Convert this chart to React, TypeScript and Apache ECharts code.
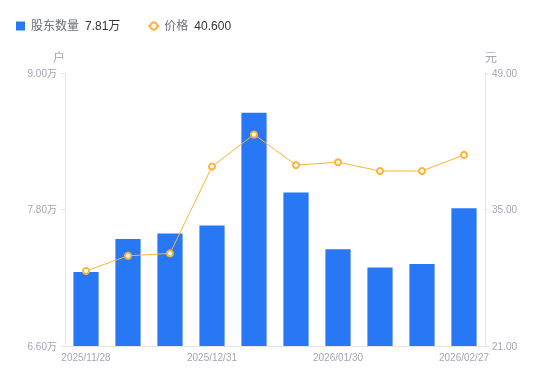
import React, { useEffect, useRef } from "react";
import * as echarts from "echarts";

const categories = [
  "2025/11/28",
  "2025/12/10",
  "2025/12/19",
  "2025/12/31",
  "2026/01/09",
  "2026/01/20",
  "2026/01/30",
  "2026/02/10",
  "2026/02/13",
  "2026/02/27",
];
// 股东数量 (万户)
const holders = [7.25, 7.54, 7.59, 7.66, 8.65, 7.95, 7.45, 7.29, 7.32, 7.81];
// 价格 (元)
const prices = [28.7, 30.25, 30.5, 39.4, 42.7, 39.55, 39.85, 38.95, 38.95, 40.6];

const leftTicks = { min: 6.6, max: 9.0, interval: 1.2 };
const rightTicks = { min: 21, max: 49, interval: 14 };

const FONT = "Arial, 'Liberation Sans', 'Noto Sans CJK SC', sans-serif";
const BAR_COLOR = "#2878F5";
const LINE_COLOR = "#FFB233";
const AXIS_LABEL = "#A3A6B4";
const AXIS_LINE = "#E6E6E6";

export default function App() {
  const ref = useRef<HTMLDivElement>(null);
  useEffect(() => {
    if (!ref.current) return;
    const chart = echarts.init(ref.current, undefined, { renderer: "svg" });
    const lastHolder = holders[holders.length - 1];
    const lastPrice = prices[prices.length - 1];
    chart.setOption({
      animation: false,
      textStyle: { fontFamily: FONT },
      legend: {
        left: 11,
        top: 15,
        itemWidth: 11,
        itemHeight: 9,
        itemGap: 27,
        data: [
          { name: "股东数量", icon: "path://M0 0h10v10H0z" },
          { name: "价格" },
        ],
        formatter: (name: string) => {
          if (name === "股东数量") return `{n|${name}}{v|${lastHolder.toFixed(2)}万}`;
          return `{n|${name}}{v|${lastPrice.toFixed(3)}}`;
        },
        textStyle: {
          fontFamily: FONT,
          rich: {
            n: { fontSize: 12, color: "#6B6E78", fontFamily: FONT, padding: [0, 6, 0, 0] },
            v: { fontSize: 12, color: "#333333", fontFamily: FONT },
          },
        },
      },
      grid: { left: 65, right: 65, top: 73, bottom: 35, containLabel: false },
      xAxis: {
        type: "category",
        data: categories,
        axisLine: { lineStyle: { color: AXIS_LINE } },
        axisTick: { show: false },
        axisLabel: {
          color: AXIS_LABEL,
          fontSize: 10,
          fontFamily: FONT,
          interval: 2,
          margin: 6,
        },
      },
      yAxis: [
        {
          type: "value",
          name: "户",
          nameLocation: "end",
          nameGap: 9,
          nameTextStyle: { color: AXIS_LABEL, fontSize: 12, align: "right", fontFamily: FONT },
          min: leftTicks.min,
          max: leftTicks.max,
          interval: leftTicks.interval,
          axisLine: { show: true, lineStyle: { color: AXIS_LINE } },
          axisTick: { show: true, length: 4, lineStyle: { color: AXIS_LINE } },
          splitLine: { show: false },
          axisLabel: {
            color: AXIS_LABEL,
            fontSize: 10,
            fontFamily: FONT,
            margin: 8,
            formatter: (v: number) => `${v.toFixed(2)}万`,
          },
        },
        {
          type: "value",
          name: "元",
          nameLocation: "end",
          nameGap: 9,
          nameTextStyle: { color: AXIS_LABEL, fontSize: 12, align: "left", fontFamily: FONT },
          min: rightTicks.min,
          max: rightTicks.max,
          interval: rightTicks.interval,
          position: "right",
          axisLine: { show: true, lineStyle: { color: AXIS_LINE } },
          axisTick: { show: true, length: 4, lineStyle: { color: AXIS_LINE } },
          splitLine: { show: false },
          axisLabel: {
            color: AXIS_LABEL,
            fontSize: 10,
            fontFamily: FONT,
            margin: 7,
            formatter: (v: number) => v.toFixed(2),
          },
        },
      ],
      series: [
        {
          name: "股东数量",
          type: "bar",
          yAxisIndex: 0,
          data: holders,
          barWidth: "60%",
          itemStyle: { color: BAR_COLOR },
        },
        {
          name: "价格",
          type: "line",
          yAxisIndex: 1,
          data: prices,
          symbol: "emptyCircle",
          symbolSize: 6,
          lineStyle: { color: LINE_COLOR, width: 1 },
          itemStyle: { color: LINE_COLOR, borderWidth: 2 },
        },
      ],
    });
    return () => chart.dispose();
  }, []);
  return (
    <div
      ref={ref}
      style={{ position: "fixed", left: 0, top: 0, width: 550, height: 381 }}
    />
  );
}
